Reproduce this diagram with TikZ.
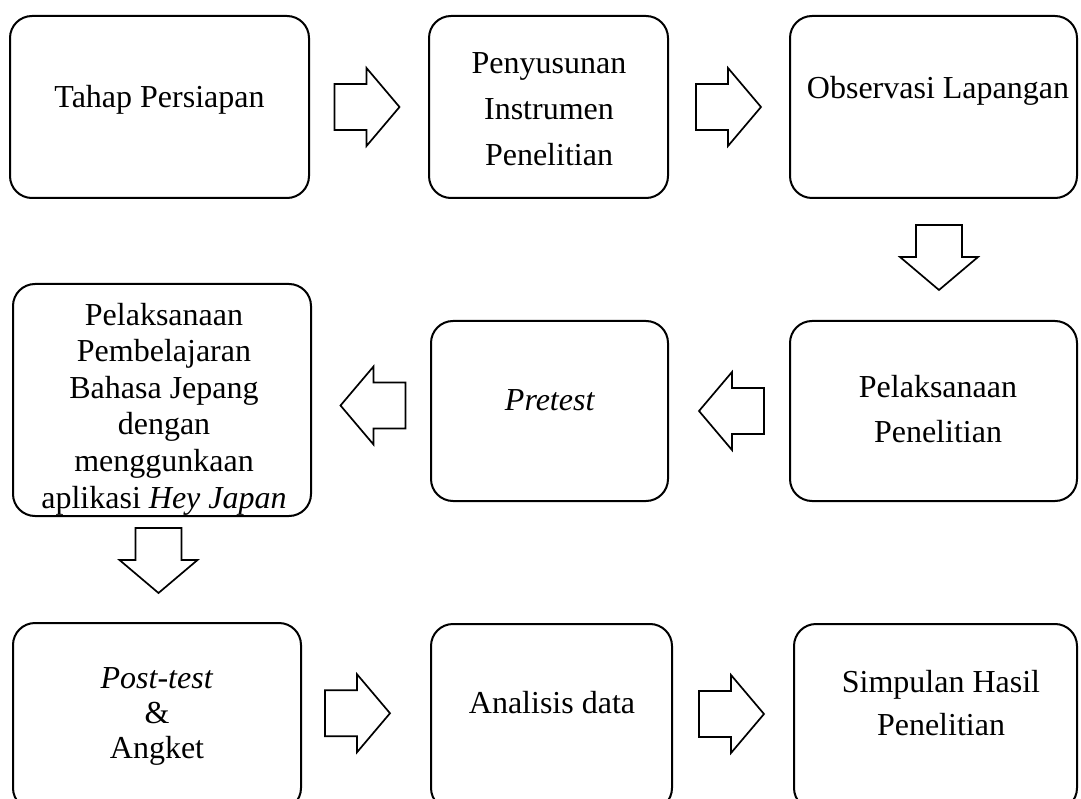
\documentclass[tikz,border=0pt]{standalone}
\usepackage{fontspec}
\setmainfont{Liberation Serif}
\usetikzlibrary{calc}
\tikzset{
  box/.style={draw, line width=2pt, rounded corners=22pt, inner sep=0pt, outer sep=0pt},
  txt/.style={inner sep=0pt, outer sep=0pt, align=center, anchor=base},
  fnt/.style={font=\fontsize{32}{#1}\selectfont},
  blockarrow/.pic={
    \draw[line width=1.7pt, line join=miter]
      (-32,-23) -- (0,-23) -- (0,-39) -- (33,0) -- (0,39) -- (0,23) -- (-32,23) -- cycle;
  }
}
\begin{document}
\begin{tikzpicture}[x=1pt,y=-1pt]
\clip (0,0) rectangle (1081,799);
% boxes
\node[box, minimum width=299pt, minimum height=182pt] (b1) at (159.5,107) {};
\node[box, minimum width=239pt, minimum height=182pt] (b2) at (548.5,107) {};
\node[box, minimum width=287pt, minimum height=182pt] (b3) at (933.5,107) {};
\node[box, minimum width=298pt, minimum height=232pt] (b4) at (162,400) {};
\node[box, minimum width=237pt, minimum height=180pt] (b5) at (549.5,411) {};
\node[box, minimum width=287pt, minimum height=180pt] (b6) at (933.5,411) {};
\node[box, minimum width=288pt, minimum height=187pt] (b7) at (157,716.5) {};
\node[box, minimum width=241pt, minimum height=186pt] (b8) at (551.5,717) {};
\node[box, minimum width=283pt, minimum height=186pt] (b9) at (935.5,717) {};
% texts (base anchor = baseline of the last line)
\node[txt, fnt=46] (t1) at (159.5,108) {Tahap Persiapan};
\node[txt, fnt=46] (t2) at (549,166) {Penyusunan\\Instrumen\\Penelitian};
\node[txt, fnt=46] (t3) at (938,99) {Observasi Lapangan};
\node[txt, fnt=36.6] (t4) at (164,508) {Pelaksanaan\\Pembelajaran\\Bahasa Jepang\\dengan\\menggunkaan\\aplikasi \textit{Hey Japan}};
\node[txt, fnt=46] (t5) at (550,410) {\textit{Pretest}};
\node[txt, fnt=45] (t6) at (938,442) {Pelaksanaan\\Penelitian};
\node[txt, fnt=35] (t7) at (157,758) {\textit{Post-test}\\\&\\Angket};
\node[txt, fnt=46] (t8) at (552,713) {Analisis data};
\node[txt, fnt=43] (t9) at (941,735) {Simpulan Hasil\\Penelitian};
% block arrows
\pic at ($(b1.east)!0.5!(b2.west)+(-2.5,0)$) {blockarrow};
\pic at ($(b2.east)!0.5!(b3.west)+(-1,0)$) {blockarrow};
\pic[rotate=-90] at ($(b3.south)!0.5!(b6.north)+(5.5,-2.5)$) {blockarrow};
\pic[rotate=180] at ($(b6.west)!0.5!(b5.east)+(3,0)$) {blockarrow};
\pic[rotate=180] at ($(b5.west)!0.5!(b4.east)+(2.5,0)$) {blockarrow};
\pic[rotate=-90] at ($(b4.south)!0.5!(b7.north)+(-1,-9.5)$) {blockarrow};
\pic at ($(b7.east)!0.5!(b8.west)+(-9,-3.5)$) {blockarrow};
\pic at ($(b8.east)!0.5!(b9.west)+(-2,-3)$) {blockarrow};
\end{tikzpicture}
\end{document}
